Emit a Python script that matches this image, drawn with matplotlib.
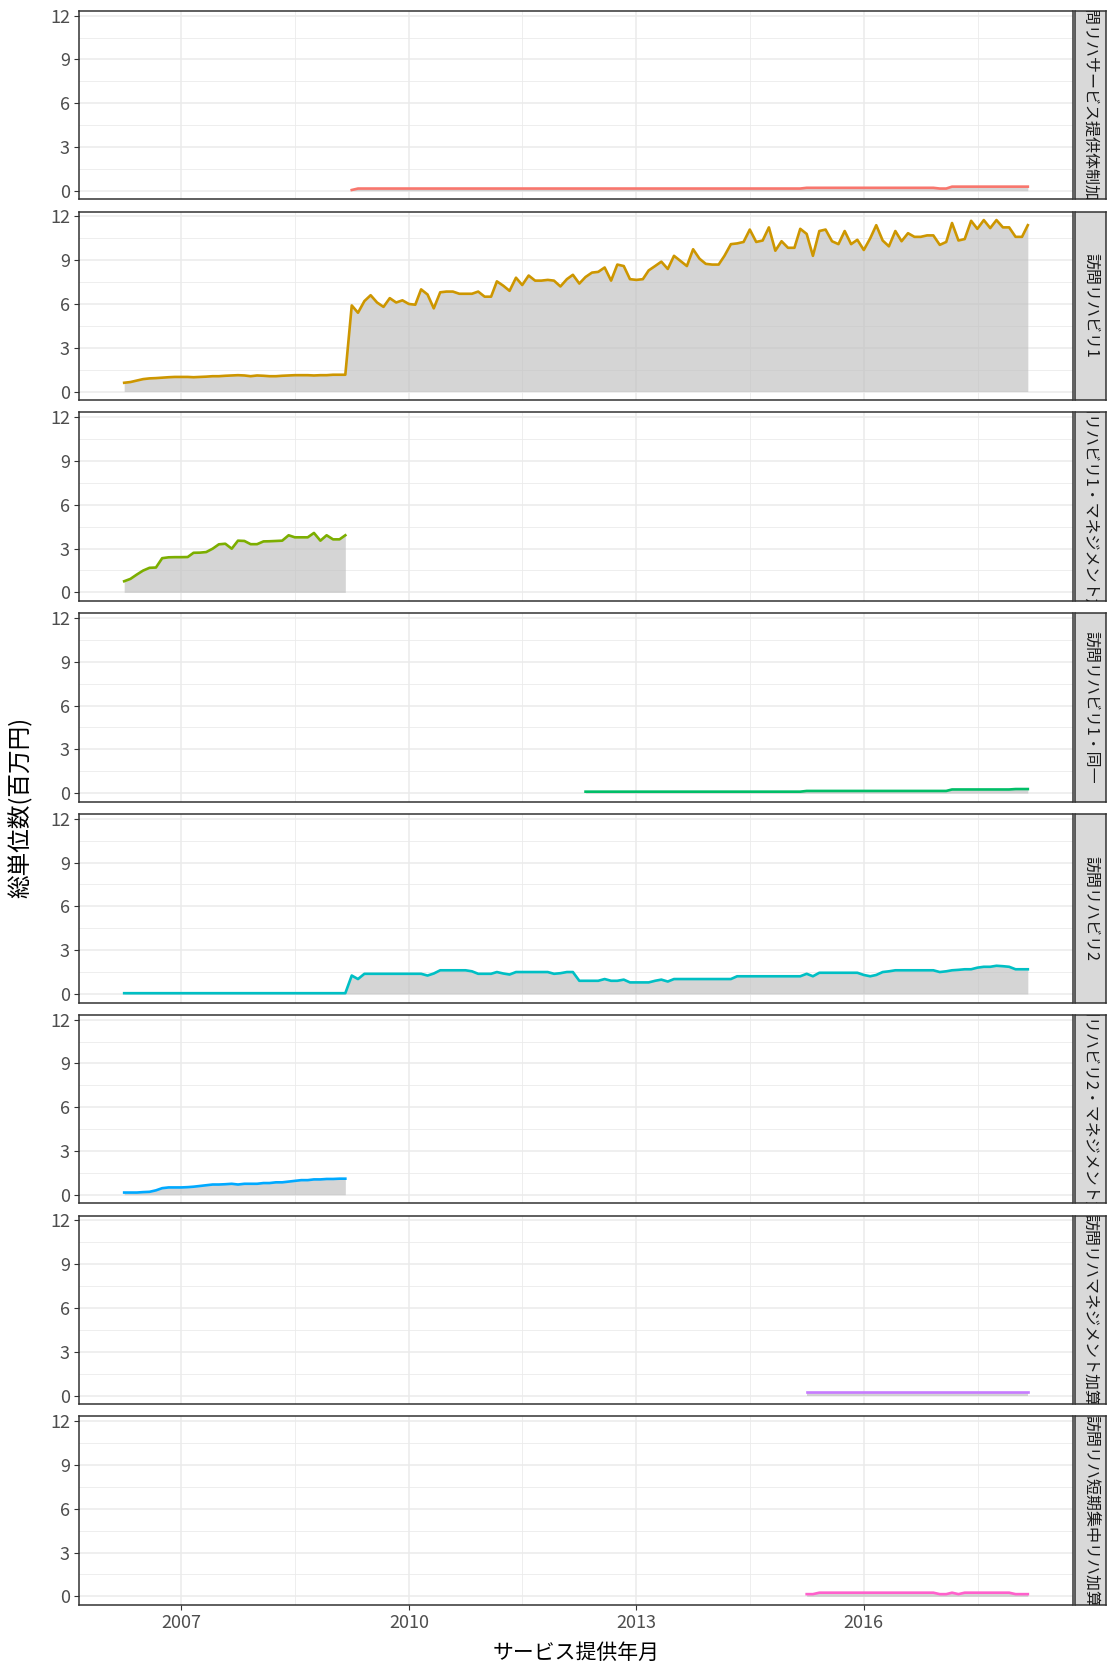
import numpy as np
import pandas as pd
import matplotlib
matplotlib.use('Agg')
import matplotlib.pyplot as plt
import matplotlib.dates as mdates

plt.rcParams['font.family'] = ['Noto Sans CJK JP', 'DejaVu Sans']

# facet labels and ggplot hue colours
facets = ['訪問リハサービス提供体制加算', '訪問リハビリ1', '訪問リハビリ1・マネジメント加算',
          '訪問リハビリ1・同一', '訪問リハビリ2', '訪問リハビリ2・マネジメント加算',
          '訪問リハマネジメント加算', '訪問リハ短期集中リハ加算']
colors = ['#F8766D', '#CD9600', '#7CAE00', '#00BE67', '#00BFC4', '#00A9FF', '#C77CFF', '#FF61CC']

# first month of every series (monthly data up to 2018-03)
starts = ['2009-04-01', '2006-04-01', '2006-04-01', '2012-05-01',
          '2006-04-01', '2006-04-01', '2015-04-01', '2015-04-01']
end_month = '2018-03-01'

# values, millions of yen
kasan_taisei = [0.05] + [0.15] * 71 + [0.20] * 21 + [0.15] * 2 + [0.28] * 13

reha1 = [0.60, 0.65, 0.75, 0.85, 0.90, 0.92, 0.95, 0.98, 1.00, 1.00, 1.00, 0.98,
         1.00, 1.02, 1.05, 1.05, 1.08, 1.10, 1.12, 1.10, 1.05, 1.10, 1.08, 1.05,
         1.05, 1.08, 1.10, 1.12, 1.12, 1.12, 1.10, 1.12, 1.12, 1.15, 1.15, 1.15,
         5.90, 5.40, 6.20, 6.60, 6.10, 5.80, 6.40, 6.10, 6.25, 6.00, 5.95, 7.00,
         6.65, 5.70, 6.80, 6.85, 6.85, 6.70, 6.70, 6.70, 6.85, 6.50, 6.50, 7.55,
         7.25, 6.90, 7.80, 7.30, 7.95, 7.60, 7.60, 7.65, 7.60, 7.20, 7.70, 8.00,
         7.40, 7.85, 8.15, 8.20, 8.50, 7.60, 8.70, 8.60, 7.70, 7.65, 7.70, 8.30,
         8.60, 8.90, 8.40, 9.30, 8.95, 8.60, 9.75, 9.10, 8.75, 8.70, 8.70, 9.30,
         10.10, 10.15, 10.25, 11.10, 10.25, 10.35, 11.25, 9.65, 10.30, 9.85, 9.85, 11.15,
         10.80, 9.30, 11.00, 11.10, 10.30, 10.10, 11.00, 10.10, 10.40, 9.70, 10.50, 11.40,
         10.35, 9.95, 11.00, 10.30, 10.85, 10.60, 10.60, 10.70, 10.70, 10.05, 10.25, 11.55,
         10.35, 10.45, 11.70, 11.15, 11.75, 11.20, 11.75, 11.25, 11.25, 10.60, 10.60, 11.40]

reha1_mgmt = [0.76, 0.92, 1.22, 1.49, 1.68, 1.70, 2.34, 2.40, 2.41, 2.41, 2.42, 2.71,
              2.72, 2.76, 2.99, 3.29, 3.33, 2.99, 3.54, 3.52, 3.30, 3.30, 3.49, 3.50,
              3.52, 3.54, 3.91, 3.77, 3.77, 3.77, 4.07, 3.54, 3.91, 3.63, 3.63, 3.91]

reha1_same = [0.10] * 35 + [0.15] * 23 + [0.25] * 10 + [0.28] * 3

reha2 = ([0.05] * 36 + [1.26, 1.02] + [1.38] * 10 + [1.26, 1.40] + [1.62] * 5
         + [1.55] + [1.38] * 3 + [1.50, 1.40, 1.33] + [1.50] * 6 + [1.38, 1.42, 1.50, 1.50]
         + [0.90] * 4 + [1.02, 0.90, 0.90, 0.98] + [0.79] * 4 + [0.90, 0.98, 0.85]
         + [1.02] * 10 + [1.21] * 11 + [1.38, 1.21] + [1.45] * 7
         + [1.30, 1.21, 1.30, 1.50, 1.55] + [1.62] * 7 + [1.50, 1.55, 1.62, 1.65]
         + [1.69] * 2 + [1.80, 1.86, 1.86, 1.93, 1.90, 1.86] + [1.69] * 3)

reha2_mgmt = [0.15, 0.15, 0.15, 0.18, 0.20, 0.30, 0.45, 0.50, 0.50, 0.50, 0.52, 0.55,
              0.60, 0.65, 0.70, 0.70, 0.72, 0.75, 0.70, 0.75, 0.75, 0.75, 0.80, 0.80,
              0.85, 0.85, 0.90, 0.95, 1.00, 1.00, 1.05, 1.05, 1.08, 1.08, 1.10, 1.10]

mgmt_kasan = [0.25] * 36

tanki = [0.15] * 2 + [0.25] * 19 + [0.15] * 2 + [0.25, 0.15] + [0.25] * 8 + [0.15] * 3

series = [kasan_taisei, reha1, reha1_mgmt, reha1_same, reha2, reha2_mgmt, mgmt_kasan, tanki]
ends = [end_month, end_month, '2009-03-01', end_month, end_month, '2009-03-01', end_month, end_month]

y_ticks = [0, 3, 6, 9, 12]
x_ticks = ['2007-01-01', '2010-01-01', '2013-01-01', '2016-01-01']
x_minor = ['2008-07-02', '2011-07-02', '2014-07-02', '2017-07-02']

W, H = 1107, 1671
fig = plt.figure(figsize=(W / 100, H / 100), dpi=100)

# shared scales, ggplot-like 5% expansion
all_dates = pd.date_range(min(starts), end_month, freq='MS')
xmin, xmax = mdates.date2num(all_dates[0]), mdates.date2num(all_dates[-1])
xpad = (xmax - xmin) * 0.05
ymax = max(max(s) for s in series)
ypad = ymax * 0.05

left, right = 79, 1073
top0, panel_h, step = 10.7, 188.6, 200.8

for k in range(8):
    top = top0 + k * step
    ax = fig.add_axes([left / W, 1 - (top + panel_h) / H, (right - left) / W, panel_h / H])
    x = pd.date_range(starts[k], ends[k], freq='MS')
    v = np.array(series[k])
    ax.fill_between(x, 0, v, color='#BEBEBE', alpha=0.64, lw=0, zorder=2)
    ax.plot(x, v, color=colors[k], lw=1.9, zorder=3)

    ax.set_xlim(xmin - xpad, xmax + xpad)
    ax.set_ylim(-ypad, ymax + ypad)
    ax.set_yticks(y_ticks)
    ax.set_yticks([1.5, 4.5, 7.5, 10.5], minor=True)
    ax.set_xticks(mdates.date2num(pd.to_datetime(x_ticks)))
    ax.set_xticks(mdates.date2num(pd.to_datetime(x_minor)), minor=True)
    ax.xaxis.set_major_formatter(mdates.DateFormatter('%Y'))
    ax.set_axisbelow(True)
    ax.grid(which='major', color='#EBEBEB', lw=1.1)
    ax.grid(which='minor', color='#EBEBEB', lw=0.6)
    ax.tick_params(which='minor', length=0)
    ax.tick_params(axis='y', which='major', length=3.5, width=0.8, color='#333333',
                   labelsize=13, labelcolor='#4D4D4D', pad=3)
    if k < 7:
        ax.tick_params(axis='x', which='both', bottom=False, labelbottom=False)
    else:
        ax.tick_params(axis='x', which='major', length=3.5, width=0.8, color='#333333',
                       labelsize=13, labelcolor='#4D4D4D', pad=3)
    for sp in ax.spines.values():
        sp.set_color('#333333')
        sp.set_linewidth(1.1)

    # facet strip on the right, text clipped like the original
    st = fig.add_axes([1075 / W, 1 - (top + panel_h) / H, 31 / W, panel_h / H])
    st.set_facecolor('#D9D9D9')
    st.set_xticks([])
    st.set_yticks([])
    for sp in st.spines.values():
        sp.set_color('#333333')
        sp.set_linewidth(1.1)
    st.text(0.5, 0.5, facets[k], rotation=-90, ha='center', va='center',
            fontsize=11.5, color='#1A1A1A', transform=st.transAxes, clip_on=True)

fig.text(21 / W, 1 - (top0 + 7 * step + panel_h + top0) / 2 / H, '総単位数(百万円)',
         rotation=90, ha='center', va='center', fontsize=17, color='black')
fig.text((left + right) / 2 / W, 1 - 1653 / H, 'サービス提供年月',
         ha='center', va='center', fontsize=15, color='black')

fig.savefig('out.png', dpi=100)
